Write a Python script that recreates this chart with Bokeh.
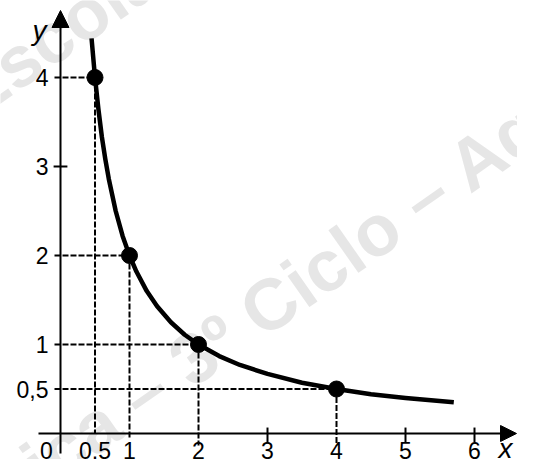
from bokeh.plotting import figure
from bokeh.models import Range1d, Arrow, NormalHead, Label, ColumnDataSource
from bokeh.core.properties import value
from bokeh.embed import file_html
from bokeh.resources import INLINE

# ---- data ----
point_x = [0.5, 1, 2, 4]
point_y = [4, 2, 1, 0.5]

curve_x = [0.45, 0.5, 0.55, 0.6, 0.65, 0.7, 0.8, 0.9, 1.0, 1.1, 1.25, 1.4, 1.6, 1.8,
           2.0, 2.3, 2.6, 3.0, 3.5, 4.0, 4.5, 5.0, 5.7]
curve_y = [4.44, 4.0, 3.64, 3.33, 3.08, 2.86, 2.5, 2.22, 2.0, 1.82, 1.6, 1.43, 1.25, 1.11,
           1.0, 0.87, 0.77, 0.67, 0.57, 0.5, 0.44, 0.4, 0.35]

x_ticks = [0.5, 1, 2, 3, 4, 5, 6]
x_tick_labels = ["0,5", "1", "2", "3", "4", "5", "6"]
y_ticks = [0.5, 1, 2, 3, 4]
y_tick_labels = ["0,5", "1", "2", "3", "4"]

FONT = "Liberation Sans"

p = figure(width=517, height=459, output_backend="svg", toolbar_location=None,
           x_axis_type=None, y_axis_type=None,
           x_range=Range1d(-0.8696, 6.6232), y_range=Range1d(-0.2921, 4.8652),
           min_border=0, min_border_left=0, min_border_right=0,
           min_border_top=0, min_border_bottom=0)
p.outline_line_color = None
p.background_fill_color = "white"
p.border_fill_color = "white"

# ---- watermark ----
wm_col = "#e6e6e6"
p.add_layout(Label(x=4.81, y=2.416, text="Matemática – 3º Ciclo", angle=35, angle_units="deg",
                   text_align="right", text_baseline="alphabetic",
                   text_font=FONT, text_font_style="bold", text_font_size="72px",
                   text_color=wm_col, level="image"))
p.add_layout(Label(x=5.045, y=2.545, text="– Agrupamento", angle=35, angle_units="deg",
                   text_align="left", text_baseline="alphabetic",
                   text_font=FONT, text_font_style="bold", text_font_size="72px",
                   text_color=wm_col, level="image"))
p.add_layout(Label(x=-1.435, y=3.74, text="Escola Básica", angle=35, angle_units="deg",
                   text_align="left", text_baseline="alphabetic",
                   text_font=FONT, text_font_style="bold", text_font_size="72px",
                   text_color=wm_col, level="image"))

# ---- dashed guide lines ----
v_end = [0, -0.045, -0.135, -0.135]
p.segment(x0=[-0.087] * len(point_x), y0=point_y, x1=point_x, y1=point_y,
          line_color="black", line_width=2, line_dash="6 2")
p.segment(x0=point_x, y0=point_y, x1=point_x, y1=v_end,
          line_color="black", line_width=2, line_dash="6 2")

# ---- axes ----
p.add_layout(Arrow(x_start=0, y_start=-0.225, x_end=0, y_end=4.753,
                   line_color="black", line_width=2,
                   end=NormalHead(size=17, fill_color="black", line_color="black", line_width=1)))
p.add_layout(Arrow(x_start=-0.319, y_start=0, x_end=6.609, y_end=0,
                   line_color="black", line_width=2,
                   end=NormalHead(size=16, fill_color="black", line_color="black", line_width=1)))

solid_x = [t for t in x_ticks if t not in point_x]
solid_y = [t for t in y_ticks if t not in point_y]
p.segment(x0=solid_x, y0=[0.067] * len(solid_x), x1=solid_x, y1=[-0.1] * len(solid_x),
          line_color="black", line_width=2)
p.segment(x0=[-0.1] * len(solid_y), y0=solid_y, x1=[0.1] * len(solid_y), y1=solid_y,
          line_color="black", line_width=2)

# ---- curve and points ----
p.line(curve_x, curve_y, line_color="black", line_width=4.5, line_join="round", line_cap="butt")
p.scatter(point_x, point_y, size=16, marker="circle", fill_color="black", line_color="black")

# ---- tick labels ----
xs = ColumnDataSource(dict(x=x_ticks, y=[-0.191] * len(x_ticks), t=x_tick_labels))
p.text(x="x", y="y", text="t", source=xs, text_align="center", text_baseline="middle",
       text_font=value(FONT), text_font_size="23px", text_color="black")
ys = ColumnDataSource(dict(x=[-0.174] * len(y_ticks), y=y_ticks, t=y_tick_labels))
p.text(x="x", y="y", text="t", source=ys, text_align="right", text_baseline="middle",
       text_font=value(FONT), text_font_size="23px", text_color="black")
p.text(x=[-0.203], y=[-0.191], text=["0"], text_align="center", text_baseline="middle",
       text_font=value(FONT), text_font_size="23px", text_color="black")

# ---- axis names ----
p.text(x=[-0.304], y=[4.528], text=["y"], text_align="center", text_baseline="middle",
       text_font=value(FONT), text_font_style="italic", text_font_size="28px", text_color="black")
p.text(x=[6.449], y=[-0.169], text=["x"], text_align="center", text_baseline="middle",
       text_font=value(FONT), text_font_style="italic", text_font_size="28px", text_color="black")

open("out.html", "w").write(file_html(p, INLINE))
